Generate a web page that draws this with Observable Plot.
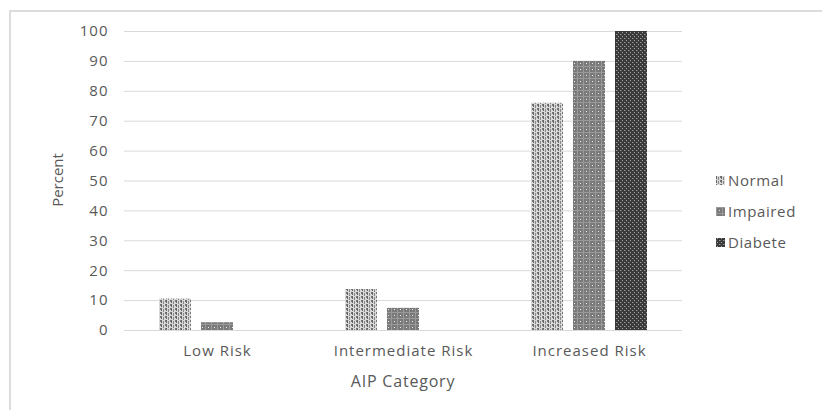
<!DOCTYPE html>
<html><head><meta charset="utf-8">
<script src="https://cdn.jsdelivr.net/npm/d3@7"></script>
<script src="https://cdn.jsdelivr.net/npm/@observablehq/plot@0.6"></script>
<style>
body{margin:0;background:#fff;font-family:"Open Sans",sans-serif;}
#wrap{position:relative;width:822px;height:410px;overflow:hidden;}
#frame{position:absolute;left:9px;top:10px;width:830px;height:420px;border-top:2px solid #dcdcdc;border-left:2px solid #dcdcdc;box-sizing:border-box;pointer-events:none;}
#legend{position:absolute;left:716px;top:165px;font-size:15px;letter-spacing:0.6px;color:#595959;line-height:31px;}
#legend div{display:flex;align-items:center;}
#legend svg{margin-right:3px;}
#ylab{position:absolute;left:57px;top:180px;transform:translate(-50%,-50%) rotate(-90deg);font-size:15px;color:#595959;white-space:nowrap;}
#xlab{position:absolute;left:403px;top:381px;transform:translate(-50%,-50%);font-size:16px;letter-spacing:0.8px;color:#595959;white-space:nowrap;}
</style></head>
<body>
<svg width="0" height="0" style="position:absolute">
<defs>
<pattern id="pNormal" width="5" height="4" patternUnits="userSpaceOnUse">
<rect width="5" height="4" fill="#d8d8d8"/>
<rect x="0" y="0" width="1" height="3" fill="#666"/>
<rect x="2" y="1" width="1" height="3" fill="#888"/>
<rect x="4" y="0" width="1" height="2" fill="#777"/>
</pattern>
<pattern id="pImpaired" width="6" height="6" patternUnits="userSpaceOnUse">
<rect width="6" height="6" fill="#7a7a7a"/>
<rect x="0" y="0" width="6" height="1" fill="#999"/>
<rect x="0" y="0" width="1" height="6" fill="#9a9a9a"/>
<rect x="3" y="3" width="1" height="1" fill="#eee"/>
</pattern>
<pattern id="pDiabete" width="4" height="4" patternUnits="userSpaceOnUse">
<rect width="4" height="4" fill="#3a3a3a"/>
<rect x="1" y="0" width="1" height="1" fill="#aaa"/>
<rect x="3" y="2" width="1" height="1" fill="#999"/>
<rect x="0" y="2" width="1" height="1" fill="#666"/>
</pattern>
</defs>
</svg>
<div id="wrap"><div id="frame"></div><div id="chart"></div>
<div id="ylab">Percent</div><div id="xlab">AIP Category</div>
<div id="legend"></div></div>
<script>
const categories = ["Low Risk", "Intermediate Risk", "Increased Risk"];
const series = ["Normal", "Impaired", "Diabete"];
const normal = [10.5, 13.7, 76];
const impaired = [2.6, 7.4, 90];
const diabete = [0, 0, 100];
const yTicks = [0,10,20,30,40,50,60,70,80,90,100];
const patterns = ["url(#pNormal)", "url(#pImpaired)", "url(#pDiabete)"];

const values = [normal, impaired, diabete];
const data = [];
categories.forEach((c, i) => series.forEach((s, j) => data.push({category: c, series: s, value: values[j][i]})));

const chart = Plot.plot({
  width: 822, height: 410,
  marginLeft: 123, marginRight: 139, marginTop: 31, marginBottom: 80,
  style: {fontFamily: "'Open Sans', sans-serif", fontSize: "15px", color: "#595959", background: "transparent", letterSpacing: "1px"},
  fx: {domain: categories, padding: 0, label: null},
  x: {domain: series, paddingInner: 0.24, paddingOuter: 0.79, axis: null},
  y: {domain: [0, 100], ticks: yTicks, label: null},
  color: {domain: series, range: patterns, type: "ordinal"},
  marks: [
    Plot.ruleY(yTicks, {stroke: "#d9d9d9", strokeWidth: 1}),
    Plot.barY(data.filter(d => d.value > 0), {fx: "category", x: "series", y: "value", fill: "series"}),
    Plot.axisY({ticks: yTicks, tickSize: 0, tickPadding: 16, fontSize: 15, fill: "#595959", label: null}),
    Plot.axisFx({anchor: "bottom", tickSize: 0, tickPadding: 15, fontSize: 15, fill: "#595959", label: null})
  ]
});
document.getElementById("chart").appendChild(chart);

const lg = document.getElementById("legend");
series.forEach((s, j) => {
  const d = document.createElement("div");
  d.innerHTML = `<svg width="9" height="9"><rect width="9" height="9" fill="${patterns[j]}"/></svg>${s}`;
  lg.appendChild(d);
});
</script>
</body></html>
